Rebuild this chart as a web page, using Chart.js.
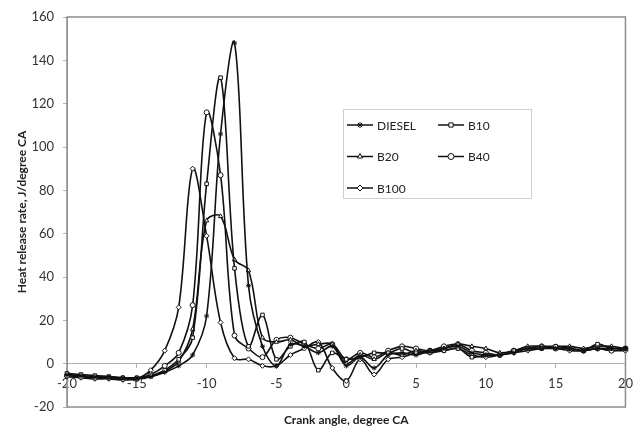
<!DOCTYPE html>
<html>
<head>
<meta charset="utf-8">
<script src="https://cdn.jsdelivr.net/npm/chart.js@4/dist/chart.umd.min.js"></script>
<style>
  html, body { margin: 0; padding: 0; background: #fff; }
  #wrap { width: 641px; height: 427px; }
</style>
</head>
<body>
<div id="wrap"><canvas id="chart" width="641" height="427"></canvas></div>
<script>
// crank angle, degree CA
const angles = [-20, -19, -18, -17, -16, -15, -14, -13, -12, -11, -10, -9, -8, -7, -6, -5, -4, -3, -2, -1,
    0, 1, 2, 3, 4, 5, 6, 7, 8, 9, 10, 11, 12, 13, 14, 15, 16, 17, 18, 19, 20];

// heat release rate, J/degree CA
const diesel = [-5, -5.5, -6, -6, -6.5, -6.5, -6, -4, -1, 4, 22, 106, 148, 36, 8, -1, 9, 8, 5, 8,
    -1, 3, -2, 4, 5, 4, 6, 7, 8, 5, 4, 4, 5, 7, 7, 7, 7, 6, 7, 7, 7];
const b10 = [-4.5, -5, -5.5, -6, -6.5, -6.5, -5.5, -3, 2, 12, 83, 132, 44, 8, 22.5, 2, 8, 10, -3, 5,
    2, 3, 5, 5, 7, 5, 6, 6, 7, 3, 4, 4, 6, 7, 7, 8, 7, 6, 9, 7, 7];
const b20 = [-5, -5.5, -6, -6.5, -6.5, -7, -6, -3.5, 1, 16, 66, 68, 48, 43, 12, 10, 11, 8, 9, 9,
    0, 4, 2, 5, 4, 6, 5, 7, 9, 8, 7, 5, 6, 8, 8, 8, 8, 7, 8, 8, 7];
const b40 = [-5.5, -6, -6.5, -6.5, -7, -7, -5, -1, 5, 27, 116, 87, 13, 7, 3, 11, 12, 9, 7, 9,
    2, 5, 3, 6, 8, 7, 6, 8, 9, 6, 5, 4, 6, 7, 8, 7, 7, 6, 7, 6, 7];
const b100 = [-6, -6.5, -7, -7, -7.5, -7, -3, 6, 26, 90, 59, 19, 2.5, 2, -1, -1, 4, 7, 10, -2,
    -8, 2, -5, 2, 3, 5, 5, 6, 7, 4, 3, 4, 5, 6, 7, 7, 6, 6, 7, 6, 6];

const seriesNames = ['DIESEL', 'B10', 'B20', 'B40', 'B100'];
const seriesData = [diesel, b10, b20, b40, b100];
const markers = ['star', 'rect', 'triangle', 'circle', 'rectRot'];

const FONT = 'Lato, "Liberation Sans", Arial, sans-serif';

// legend box drawn inside the plot, like the original
const boxLegend = {
    id: 'boxLegend',
    afterDraw(chart) {
        const ctx = chart.ctx;
        const box = { x: 343, y: 109, w: 188, h: 89 };
        ctx.save();
        ctx.fillStyle = '#fff';
        ctx.fillRect(box.x, box.y, box.w, box.h);
        ctx.strokeStyle = '#cfcfcf';
        ctx.lineWidth = 1;
        ctx.strokeRect(box.x + 0.5, box.y + 0.5, box.w, box.h);

        ctx.font = '12px ' + FONT;
        ctx.textBaseline = 'middle';
        chart.data.datasets.forEach((ds, i) => {
            const col = i % 2;
            const row = Math.floor(i / 2);
            const x0 = box.x + 4 + col * 91;
            const y = box.y + 16 + row * 31.5;
            ctx.strokeStyle = '#111';
            ctx.lineWidth = 1.5;
            ctx.beginPath();
            ctx.moveTo(x0, y);
            ctx.lineTo(x0 + 26, y);
            ctx.stroke();
            ctx.fillStyle = '#fff';
            ctx.lineWidth = 1;
            Chart.helpers.drawPoint(ctx, {
                pointStyle: ds.pointStyle,
                radius: ds.pointRadius + 0.5,
                borderWidth: 1,
                rotation: 0
            }, x0 + 13, y);
            ctx.fillStyle = '#222';
            ctx.fillText(ds.label, x0 + 30, y + 1);
        });
        ctx.restore();
    }
};

// grey frame round the plot area
const plotFrame = {
    id: 'plotFrame',
    beforeDatasetsDraw(chart) {
        const a = chart.chartArea;
        const ctx = chart.ctx;
        ctx.save();
        ctx.strokeStyle = '#8c8c8c';
        ctx.lineWidth = 1.5;
        ctx.strokeRect(a.left, a.top, a.right - a.left, a.bottom - a.top);
        ctx.restore();
    }
};

const ctx = document.getElementById('chart').getContext('2d');

new Chart(ctx, {
    type: 'line',
    data: {
        datasets: seriesNames.map((name, i) => ({
            label: name,
            data: angles.map((a, j) => ({ x: a, y: seriesData[i][j] })),
            borderColor: '#111',
            backgroundColor: '#fff',
            borderWidth: 1.6,
            pointStyle: markers[i],
            pointRadius: 2.5,
            pointBorderWidth: 1,
            pointBorderColor: '#111',
            pointBackgroundColor: '#fff',
            tension: 0.35,
            clip: 8
        }))
    },
    options: {
        responsive: false,
        animation: false,
        layout: {
            padding: { top: 17, right: 15, bottom: 20, left: 0 }
        },
        plugins: {
            legend: { display: false },
            tooltip: { enabled: false }
        },
        scales: {
            x: {
                type: 'linear',
                position: { y: 0 },
                min: -20,
                max: 20,
                border: { display: true, color: '#b0b0b0', width: 1 },
                grid: { drawOnChartArea: false, drawTicks: true, tickLength: 4, color: '#b0b0b0' },
                ticks: {
                    stepSize: 5,
                    padding: 8,
                    color: '#333',
                    font: { family: FONT, size: 13 }
                },
                title: {
                    display: true,
                    text: 'Crank angle, degree CA',
                    color: '#222',
                    font: { family: FONT, size: 12, weight: 'bold' },
                    padding: { top: 14, bottom: 0 }
                }
            },
            y: {
                min: -20,
                max: 160,
                afterFit(scale) { scale.width = 67; },
                border: { display: true, color: '#b0b0b0', width: 1 },
                grid: { drawOnChartArea: false, drawTicks: true, tickLength: 4, color: '#b0b0b0' },
                ticks: {
                    stepSize: 20,
                    padding: 9,
                    color: '#333',
                    font: { family: FONT, size: 13 }
                },
                title: {
                    display: true,
                    text: 'Heat release rate, J/degree CA',
                    color: '#222',
                    font: { family: FONT, size: 12, weight: 'bold' },
                    padding: { top: 15, bottom: 0 }
                }
            }
        }
    },
    plugins: [plotFrame, boxLegend]
});
</script>
</body>
</html>
